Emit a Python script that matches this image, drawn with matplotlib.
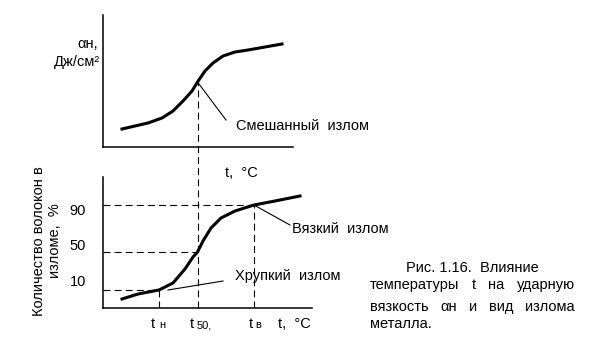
import matplotlib
matplotlib.use("Agg")
import matplotlib.pyplot as plt

plt.rcParams['font.family'] = ['Liberation Sans', 'DejaVu Sans']
plt.rcParams['lines.scale_dashes'] = False

W, H = 598, 344

# верхний график: ударная вязкость от температуры (условные единицы)
t_top = [19, 32, 45, 59, 70, 80, 89, 94.5, 102, 110, 120, 132, 145, 162, 179]
a_top = [18, 21, 24, 29, 36, 46, 56, 65, 76, 84, 91, 95, 97, 100, 103]

# нижний график: количество волокон в изломе
t_bot = [19, 35, 56, 70, 82, 90, 94.5, 100, 108, 118, 132, 151, 172, 197]
v_bot = [9, 14, 18, 25, 39, 51, 56, 67, 80, 90, 97, 103, 107, 112]

# уровни 10 / 50 / 90 % и соответствующие температуры tн, t50, tв
level_labels = ['10', '50', '90']
level_y = [18, 56, 103]
t_marks = [56, 94.5, 151]
a_mix = 65  # точка смешанного излома на верхней кривой

fs = 10.5
dash = (0, (5, 3))


def px(x, y):
    # пиксели картинки -> доли фигуры
    return x / W, 1 - y / H


def txt(x, y, s, **kw):
    kw.setdefault('fontsize', fs)
    kw.setdefault('va', 'center')
    fig.text(*px(x, y), s, **kw)


fig = plt.figure(figsize=(W / 100, H / 100), dpi=100)
fig.patch.set_facecolor('white')

ax1 = fig.add_axes([103 / W, 1 - 147 / H, 190 / W, 132 / H])
ax2 = fig.add_axes([103 / W, 1 - 308 / H, 209 / W, 131 / H])
ax1.set_xlim(0, 190)
ax1.set_ylim(0, 132)
ax2.set_xlim(0, 209)
ax2.set_ylim(0, 131)

for ax in (ax1, ax2):
    ax.set_facecolor('none')
    for s in ('top', 'right'):
        ax.spines[s].set_visible(False)
    for s in ('left', 'bottom'):
        ax.spines[s].set_linewidth(1.1)
    ax.set_xticks([])
    ax.set_yticks([])

# кривые
ax1.plot(t_top, a_top, color='black', lw=2.2, solid_joinstyle='round')
ax2.plot(t_bot, v_bot, color='black', lw=2.2, solid_joinstyle='round')

# пунктирные уровни
for ly, tm in zip(level_y, t_marks):
    ax2.plot([0, tm], [ly, ly], color='black', lw=0.8, ls=dash)
ax2.plot([t_marks[0], t_marks[0]], [0, level_y[0]], color='black', lw=0.8, ls=dash)
ax2.plot([t_marks[2], t_marks[2]], [0, level_y[2]], color='black', lw=0.8, ls=dash)
# общая вертикаль t50 через оба графика
ax2.plot([t_marks[1], t_marks[1]], [0, 308 - 147 + a_mix], color='black',
         lw=0.8, ls=dash, clip_on=False)

# выноски
ax1.plot([t_marks[1], 123], [a_mix, 27], color='black', lw=0.8)
ax2.plot([t_marks[2], 187], [level_y[2], 83], color='black', lw=0.8)
ax2.plot([65, 120], [level_y[0], 27], color='black', lw=0.8)

# подписи верхнего графика
txt(236, 126, 'Смешанный  излом')
txt(98, 44, 'αн,', ha='right')
txt(100, 62, 'Дж/см²', ha='right')

# подписи нижнего графика
txt(225, 173, 't,  °C')
for lab, yy in zip(level_labels[::-1], [211, 246, 282]):
    txt(86, yy, lab, ha='right')
txt(47, 241, 'Количество волокон в\nизломе,  %', rotation=90, ha='center',
    multialignment='center', linespacing=1.25)
txt(292, 229, 'Вязкий  излом')
txt(235, 276, 'Хрупкий  излом')

txt(151, 324, 't')
txt(159, 325, 'н', fontsize=8)
txt(190, 324, 't')
txt(197, 325, '50,', fontsize=8)
txt(249, 324, 't')
txt(255, 325, 'в', fontsize=8)
txt(278, 324, 't,  °C')

# подпись к рисунку (по ширине)
fig.canvas.draw()
renderer = fig.canvas.get_renderer()
txt(472, 268, 'Рис. 1.16.  Влияние', ha='center')
left, right = 370, 575
for yy, words in [(285, ['температуры', 't', 'на', 'ударную']),
                  (307, ['вязкость', 'αн', 'и', 'вид', 'излома'])]:
    items = [fig.text(0, 0, w, fontsize=fs, va='center') for w in words]
    widths = [it.get_window_extent(renderer).width for it in items]
    gap = (right - left - sum(widths)) / (len(words) - 1)
    x = left
    for it, wd in zip(items, widths):
        it.set_position(px(x, yy))
        x += wd + gap
txt(left, 324, 'металла.')

fig.savefig('out.png', dpi=100, facecolor='white')
